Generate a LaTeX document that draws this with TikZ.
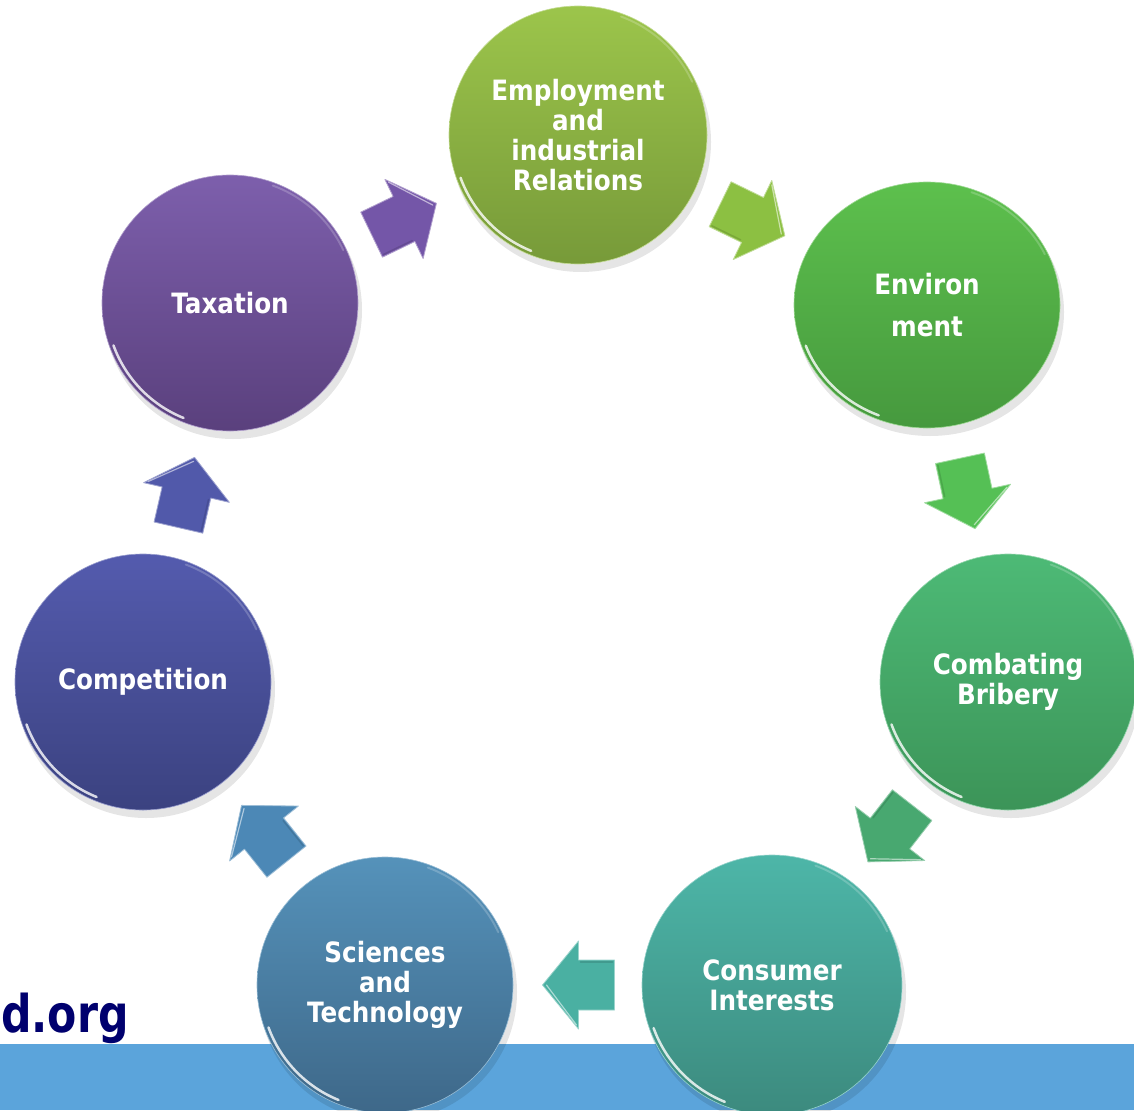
\documentclass[tikz,border=0pt]{standalone}
\usepackage{fontspec}
\newfontfamily\tah[FakeStretch=0.88]{DejaVu Sans}
\newfontfamily\tahurl[FakeStretch=0.82]{DejaVu Sans}
\usetikzlibrary{calc,shapes.geometric}
\definecolor{bar}{HTML}{5BA4DB}
\definecolor{navy}{HTML}{00006E}
\definecolor{empT}{HTML}{9CC54B}\definecolor{empB}{HTML}{779A39}
\definecolor{envT}{HTML}{5DC04D}\definecolor{envB}{HTML}{46993E}
\definecolor{comT}{HTML}{4DBA76}\definecolor{comB}{HTML}{3C9458}
\definecolor{conT}{HTML}{4DB6A8}\definecolor{conB}{HTML}{3C8A7E}
\definecolor{sciT}{HTML}{5592BA}\definecolor{sciB}{HTML}{3E6889}
\definecolor{cmpT}{HTML}{545BAE}\definecolor{cmpB}{HTML}{3B4280}
\definecolor{taxT}{HTML}{7D5FAC}\definecolor{taxB}{HTML}{5A407D}
\definecolor{aTax}{HTML}{7456A8}
\definecolor{aEmp}{HTML}{8CC042}
\definecolor{aEnv}{HTML}{55C055}
\definecolor{aCom}{HTML}{48A870}
\definecolor{aCon}{HTML}{4AB0A2}
\definecolor{aSci}{HTML}{4C88B6}
\definecolor{aCmp}{HTML}{5159AA}
\tikzset{
  bubblestyle/.style={ellipse, inner sep=0pt, align=center, text=white,
    font=\tah\bfseries\fontsize{28}{30}\selectfont},
  pics/barrow/.style={code={
    \fill[#1, draw=#1!55!white, line width=0.8pt, line join=round]
      (-36,-25) -- (0,-25) -- (0,-44) -- (36,0) -- (0,44) -- (0,25) -- (-36,25) -- cycle;
    \draw[white, opacity=.55, line width=1.2pt, line cap=round]
      (2,40) -- (32,0);
    \draw[black, opacity=.12, line width=1.5pt, line cap=round]
      (-34,-23) -- (-2,-23);
  }}
}
\newcommand\bubble[7]{%
  \fill[black, opacity=.10] ($#2+(3,-7)$) ellipse [x radius=#3+1, y radius=#4+1];
  \node[bubblestyle, minimum width=#3*2pt, minimum height=#4*2pt,
        top color=#5, bottom color=#6, draw=#5!60!white, line width=0.6pt] (#1) at #2 {#7};
  \draw[white, opacity=.8, line width=2.5pt, line cap=round]
    ($#2+(200:{#3-4} and {#4-4})$) arc[start angle=200, end angle=248, x radius=#3-4, y radius=#4-4];
  \draw[white, opacity=.2, line width=2pt, line cap=round]
    ($#2+(25:{#3-3} and {#4-3})$) arc[start angle=25, end angle=70, x radius=#3-3, y radius=#4-3];
}
\newcommand\linkarrow[3]{%
  \path let \p1=($(#2)-(#1)$), \n1={atan2(\y1,\x1)} in
    ($(#1)!.5!(#2)$) pic[rotate=\n1] {barrow=#3};
}
\begin{document}
\begin{tikzpicture}[x=1pt,y=1pt]
\useasboundingbox (0,0) rectangle (1134,-1110);
\clip (0,0) rectangle (1134,-1110);
\fill[white] (0,0) rectangle (1134,-1110);
\fill[bar] (0,-1044) rectangle (1134,-1110);
\node[anchor=base west, inner sep=0pt, text=navy,
      font=\tahurl\bfseries\fontsize{52}{60}\selectfont] (url) at (1,-1032) {d.org};

\bubble{emp}{(578,-135)}{129}{129}{empT}{empB}{Employment\\and\\industrial\\Relations}
\bubble{env}{(927,-305)}{133}{123}{envT}{envB}{Environ\\[12pt]ment}
\bubble{com}{(1008,-682)}{128}{128}{comT}{comB}{Combating\\Bribery}
\bubble{con}{(772,-985)}{130}{130}{conT}{conB}{Consumer\\Interests}
\bubble{sci}{(385,-985)}{128}{128}{sciT}{sciB}{Sciences\\and\\Technology}
\bubble{cmp}{(143,-682)}{128}{128}{cmpT}{cmpB}{Competition}
\bubble{tax}{(230,-303)}{128}{128}{taxT}{taxB}{Taxation}

\linkarrow{tax}{emp}{aTax}
\linkarrow{emp}{env}{aEmp}
\linkarrow{env}{com}{aEnv}
\linkarrow{com}{con}{aCom}
\linkarrow{con}{sci}{aCon}
\linkarrow{sci}{cmp}{aSci}
\linkarrow{cmp}{tax}{aCmp}
\end{tikzpicture}
\end{document}
